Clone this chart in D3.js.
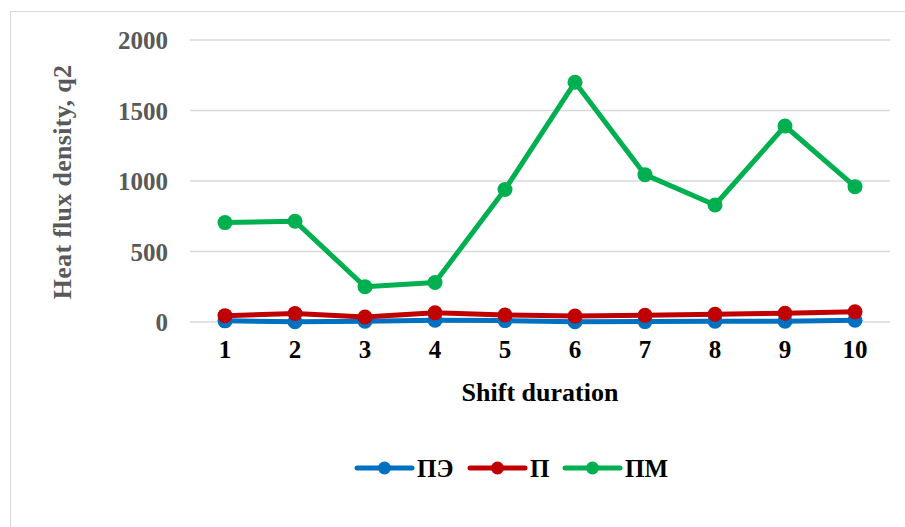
<!DOCTYPE html>
<html><head><meta charset="utf-8">
<script src="https://cdn.jsdelivr.net/npm/d3@7"></script>
<style>body{margin:0;background:#fff}svg{display:block}
svg text{font-family:"Liberation Serif","Times New Roman",Times,serif;font-weight:bold}</style>
</head><body>
<script>
const categories = ["1","2","3","4","5","6","7","8","9","10"];
const seriesNames = ["ПЭ","П","ПМ"];
const valuesPE = [8, 2, 5, 12, 10, 2, 3, 5, 6, 12];
const valuesP  = [45, 60, 35, 65, 50, 42, 47, 55, 62, 72];
const valuesPM = [705, 715, 250, 280, 940, 1700, 1045, 830, 1390, 960];
const yTicks = [0, 500, 1000, 1500, 2000];
const colors = ["#0070C0", "#C00000", "#00B050"];

const W = 905, H = 527;
const svg = d3.select("body").append("svg").attr("width", W).attr("height", H);

svg.append("rect").attr("x",10.5).attr("y",11.5).attr("width",W).attr("height",H)
  .attr("fill","#fff").attr("stroke","#d9d9d9").attr("stroke-width",1);

const x = d3.scaleBand().domain(categories).range([190, 890]);
const y = d3.scaleLinear().domain([0, 2000]).range([322, 40]);

// gridlines
svg.append("g").selectAll("line").data(yTicks).join("line")
  .attr("x1",190).attr("x2",890).attr("y1",d=>y(d)).attr("y2",d=>y(d))
  .attr("stroke","#d9d9d9").attr("stroke-width",1.5);

// y axis labels
const yAxis = svg.append("g").attr("transform","translate(168,0)")
  .call(d3.axisLeft(y).tickValues(yTicks).tickFormat(d3.format("d")).tickSize(0).tickPadding(0));
yAxis.select(".domain").remove();
yAxis.selectAll("text").attr("font-size",25).attr("fill","#595959").attr("dy","0.35em")
  .attr("font-family",null);

// x axis labels
const xAxis = svg.append("g").attr("transform","translate(0,340)")
  .call(d3.axisBottom(x).tickSize(0).tickPadding(0));
xAxis.select(".domain").remove();
xAxis.selectAll("text").attr("font-size",25).attr("fill","#000").attr("dy","0.71em");
yAxis.attr("font-family",null); xAxis.attr("font-family",null);

// axis titles
svg.append("text").attr("x",540).attr("y",401).attr("text-anchor","middle")
  .attr("font-size",26).attr("fill","#000").text("Shift duration");
svg.append("text").attr("transform","translate(71,182) rotate(-90)")
  .attr("text-anchor","middle").attr("font-size",26).attr("fill","#595959")
  .attr("letter-spacing",0.3).text("Heat flux density, q2");

const data = [valuesPE, valuesP, valuesPM];
const line = d3.line().x((d,i)=>x(categories[i])+x.bandwidth()/2).y(d=>y(d));
data.forEach((vals, k) => {
  const g = svg.append("g");
  g.append("path").attr("d", line(vals)).attr("fill","none")
    .attr("stroke",colors[k]).attr("stroke-width",5).attr("stroke-linejoin","round");
  g.selectAll("circle").data(vals).join("circle")
    .attr("cx",(d,i)=>x(categories[i])+x.bandwidth()/2).attr("cy",d=>y(d))
    .attr("r",7.5).attr("fill",colors[k]);
});

// legend
const legX = [357, 470, 565];
const legY = 468;
seriesNames.forEach((name,k)=>{
  const g = svg.append("g");
  g.append("line").attr("x1",legX[k]).attr("x2",legX[k]+55).attr("y1",legY).attr("y2",legY)
    .attr("stroke",colors[k]).attr("stroke-width",5).attr("stroke-linecap","round");
  g.append("circle").attr("cx",legX[k]+27.5).attr("cy",legY).attr("r",6.5).attr("fill",colors[k]);
  g.append("text").attr("x",legX[k]+60).attr("y",legY).attr("dy","0.35em")
    .attr("font-size",25).attr("fill","#000").text(name);
});
</script>
</body></html>
